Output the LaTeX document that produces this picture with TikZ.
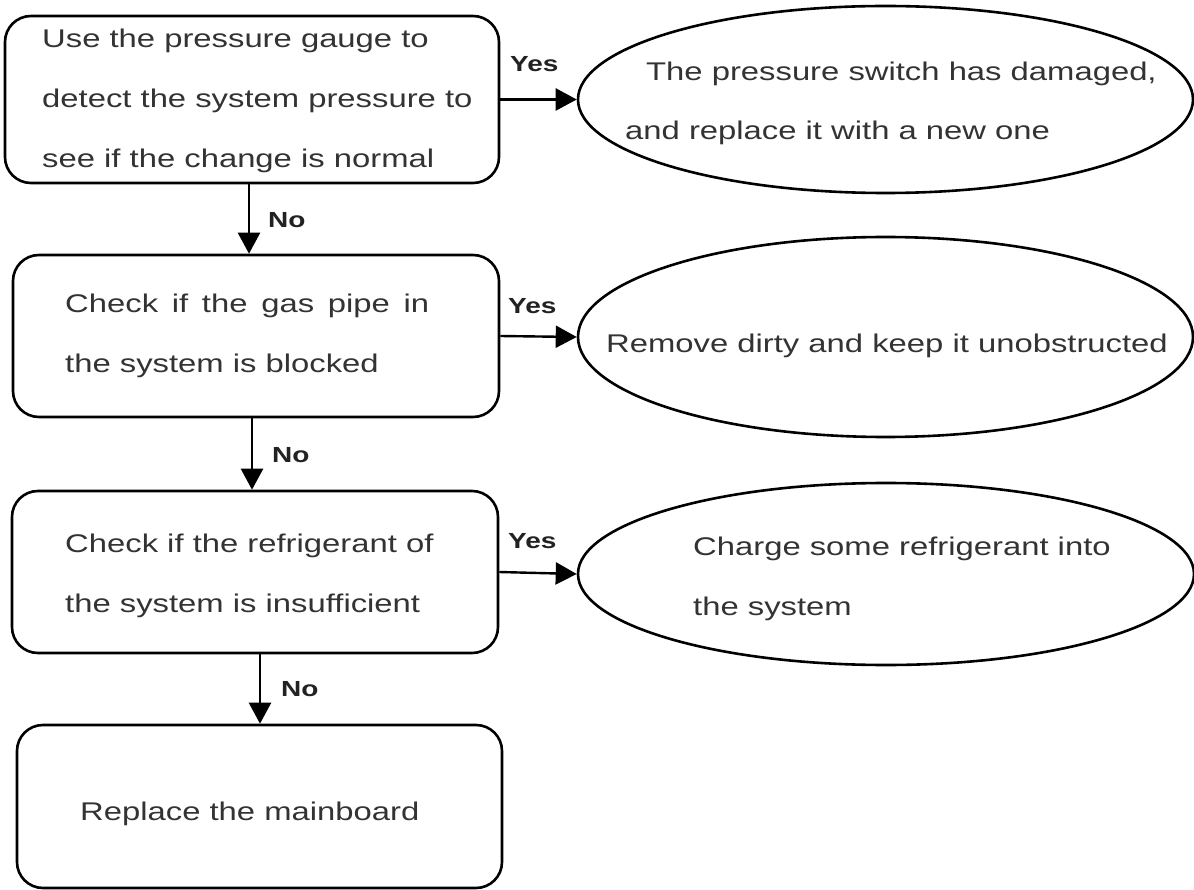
\documentclass[tikz,border=0pt]{standalone}
\usepackage{fontspec}
\setmainfont{Liberation Sans}
\usetikzlibrary{arrows.meta,shapes.geometric}
\definecolor{textgray}{HTML}{333333}
\definecolor{labelgray}{HTML}{222222}
\newcommand{\sqz}[1]{\scalebox{1}[0.78]{#1}}
\begin{document}
\begin{tikzpicture}[x=1pt,y=-1pt,
  stepbox/.style={draw=black, line width=2.6pt, rounded corners=26pt, inner sep=0pt, fill=white},
  oval/.style={draw=black, ellipse, line width=2.6pt, inner sep=0pt, fill=white},
  txt/.style={anchor=base west, inner sep=0pt, text=textgray, font=\fontsize{32.8}{40}\selectfont},
  lbl/.style={anchor=base west, inner sep=0pt, text=labelgray, font=\bfseries\fontsize{28}{34}\selectfont},
  arr/.style={draw=black, line width=2.4pt, -{Triangle[length=21pt,width=22pt]}}
]
\useasboundingbox (0,0) rectangle (1194,890);
\fill[white] (0,0) rectangle (1194,890);

% boxes
\node[stepbox, minimum width=494pt, minimum height=167pt] (b1) at (252,99.5) {};
\node[stepbox, minimum width=486pt, minimum height=162pt] (b2) at (256,336) {};
\node[stepbox, minimum width=486pt, minimum height=162pt] (b3) at (255,572) {};
\node[stepbox, minimum width=485pt, minimum height=163pt] (b4) at (259.5,806.5) {};

% ellipses
\node[oval, minimum width=615pt, minimum height=187pt] (e1) at (885.5,99.5) {};
\node[oval, minimum width=615pt, minimum height=200pt] (e2) at (885.5,337) {};
\node[oval, minimum width=616pt, minimum height=182pt] (e3) at (886,574) {};

% box texts
\node[txt] (t1a) at (42,48) {\sqz{Use the pressure gauge to}};
\node[txt] (t1b) at (42,108) {\sqz{detect the system pressure to}};
\node[txt] (t1c) at (42,168) {\sqz{see if the change is normal}};
\node[txt] (t2a) at (65,313) {\sqz{\makebox[364pt][s]{Check if the gas pipe in}}};
\node[txt] (t2b) at (65,373) {\sqz{the system is blocked}};
\node[txt] (t3a) at (65,552) {\sqz{Check if the refrigerant of}};
\node[txt] (t3b) at (65,612) {\sqz{the system is insufficient}};
\node[txt] (t4a) at (80,820) {\sqz{Replace the mainboard}};

% ellipse texts
\node[txt] (u1a) at (646,81) {\sqz{The pressure switch has damaged,}};
\node[txt] (u1b) at (625,140) {\sqz{and replace it with a new one}};
\node[txt] (u2a) at (606,353) {\sqz{Remove dirty and keep it unobstructed}};
\node[txt] (u3a) at (693,555) {\sqz{Charge some refrigerant into}};
\node[txt] (u3b) at (693,615) {\sqz{the system}};

% yes arrows
\draw[arr] (b1.east) -- (e1.west);
\draw[arr] (b2.east) -- (e2.west);
\draw[arr] (b3.east) -- (e3.west);
\node[lbl] (y1) at (510,72) {\sqz{Yes}};
\node[lbl] (y2) at (508,314) {\sqz{Yes}};
\node[lbl] (y3) at (508,548) {\sqz{Yes}};

% no arrows
\draw[arr] ([xshift=-3pt]b1.south) -- ([xshift=-3pt]b1.south |- b2.north);
\draw[arr] ([xshift=-4pt]b2.south) -- ([xshift=-4pt]b2.south |- b3.north);
\draw[arr] ([xshift=5pt]b3.south) -- ([xshift=5pt]b3.south |- b4.north);
\node[lbl] (n1) at (268,228) {\sqz{No}};
\node[lbl] (n2) at (272,462) {\sqz{No}};
\node[lbl] (n3) at (281,696) {\sqz{No}};
\end{tikzpicture}
\end{document}
